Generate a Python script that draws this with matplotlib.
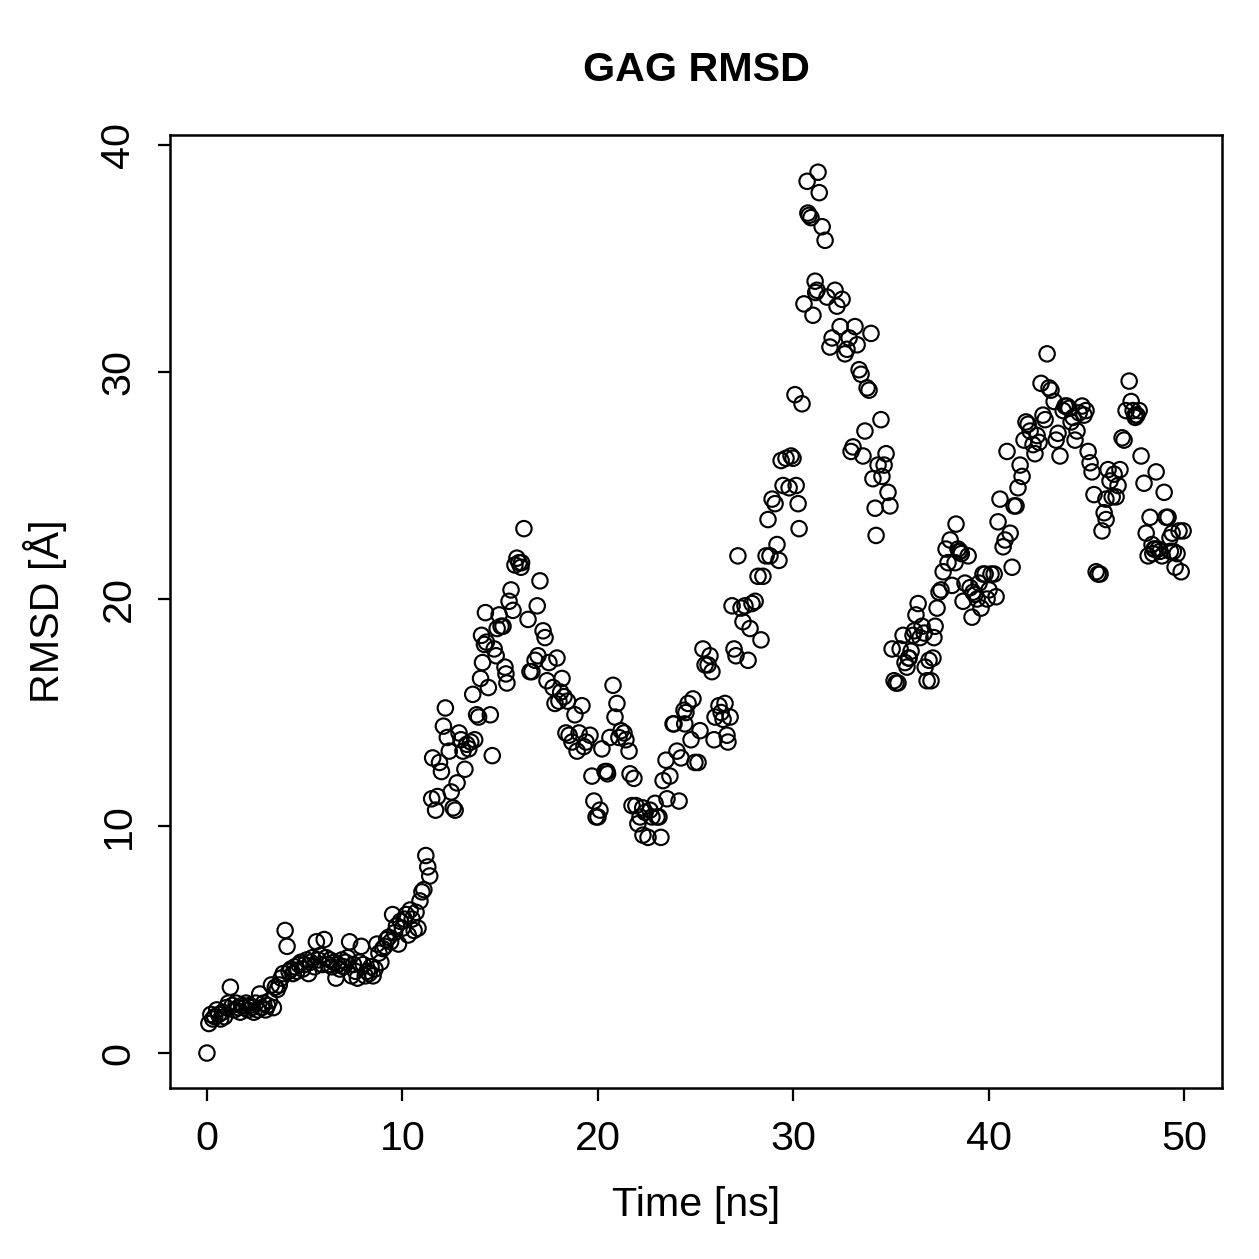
import numpy as np
import matplotlib
matplotlib.use("Agg")
import matplotlib.pyplot as plt

plt.rcParams['font.family'] = ['Liberation Sans', 'DejaVu Sans']

# --- data ---------------------------------------------------------------
# early part, sampled every 0.1 ns from 0.0 to 11.4 ns
time_early = np.round(np.arange(0, 11.45, 0.1), 1)
rmsd_early = [
    0.0, 1.3, 1.7, 1.5, 1.6, 1.9, 1.7, 1.5, 1.8, 1.6,
    2.0, 2.2, 2.9, 2.1, 1.9, 2.2, 2.0, 1.8, 2.1, 2.0,
    2.2, 1.9, 2.1, 2.0, 1.8, 2.2, 1.9, 2.6, 2.0, 2.2,
    1.9, 2.1, 2.3, 3.0, 2.0, 2.9, 2.8, 3.0, 3.3, 3.5,
    5.4, 4.7, 3.6, 3.7, 3.5, 3.8, 3.6, 3.9, 4.0, 3.7,
    3.9, 4.1, 3.5, 4.0, 4.2, 3.8, 4.9, 4.1, 4.3, 3.9,
    5.0, 4.2, 3.9, 4.1, 3.8, 4.0, 3.3, 3.9, 3.7, 4.1,
    3.8, 4.0, 4.2, 4.9, 3.4, 3.9, 3.6, 3.3, 4.0, 4.7,
    3.9, 3.4, 3.6, 3.5, 3.8, 3.4, 3.7, 4.8, 4.4, 4.0,
    4.6, 4.7, 5.0, 5.1, 4.9, 6.1, 5.3, 5.6, 4.8, 5.8,
    5.5, 5.9, 6.1, 5.2, 6.3, 5.9, 5.4, 6.2, 5.5, 6.7,
    7.1, 7.2, 8.7, 8.2, 7.8,
]

# later part, read as (time, rmsd) pairs
time_late = [
    11.5, 11.55, 11.7, 11.8, 11.9, 12.0, 12.1, 12.2, 12.3, 12.4, 12.5, 12.6, 12.7, 12.8, 12.9,
    13.0, 13.1, 13.2, 13.3, 13.4, 13.5, 13.6, 13.7, 13.8, 13.9, 14.0, 14.05, 14.1, 14.2, 14.25,
    14.3, 14.4, 14.5, 14.6, 14.7, 14.8, 14.85, 14.95, 15.05, 15.15, 15.25, 15.3, 15.35,
    15.46, 15.56, 15.66, 15.76, 15.86, 15.97, 16.07, 16.1, 16.22, 16.43, 16.53, 16.63, 16.79,
    16.94, 17.04, 16.9, 17.2, 17.3, 17.4, 17.5, 17.71, 17.81, 17.91, 18.01, 18.1, 18.17, 18.27,
    18.37, 18.45, 18.53, 18.68, 18.83, 18.94, 19.04, 19.19, 19.29, 19.4, 19.6, 19.7, 19.8,
    19.91, 20.01, 20.11, 20.21, 20.37, 20.47, 20.5, 20.62, 20.78, 20.88, 20.98, 21.08, 21.19,
    21.34, 21.44, 21.6, 21.65, 21.75, 21.85, 21.95, 22.05, 22.16, 22.3, 22.31, 22.42, 22.57,
    22.67, 22.77, 22.93, 23.03, 23.13, 23.23, 23.34, 23.49, 23.54, 23.69, 23.85, 23.9, 24.05,
    24.16, 24.26, 24.41, 24.45, 24.51, 24.62, 24.77, 24.87, 24.97, 25.13, 25.23, 25.38, 25.49,
    25.64, 25.74, 25.84, 25.95, 26.0, 26.2, 26.31, 26.41, 26.51, 26.61, 26.66, 26.77, 26.87,
    26.97, 27.07, 27.17, 27.33, 27.43, 27.53, 27.69, 27.79, 27.89, 28.05, 28.2, 28.35, 28.45,
    28.61, 28.71, 28.81, 28.92, 29.07, 29.17, 29.27, 29.38, 29.48, 29.63, 29.79, 29.89, 29.99,
    30.09, 30.15, 30.25, 30.3, 30.45, 30.55, 30.71, 30.75, 30.81, 30.91, 31.01, 31.12, 31.15,
    31.22, 31.27, 31.33, 31.48, 31.63, 31.73, 31.88, 31.99, 32.14, 32.24, 32.4, 32.5, 32.65,
    32.75, 32.86, 32.96, 33.06, 33.16, 33.27, 33.37, 33.47, 33.57, 33.67, 33.78, 33.88, 33.98,
    34.08, 34.19, 34.24, 34.34, 34.49, 34.54, 34.65, 34.75, 34.85, 34.95,
    35.06, 35.16, 35.26, 35.36, 35.47, 35.62, 35.72, 35.82, 35.9, 35.93, 36.03, 36.13, 36.2,
    36.28, 36.39, 36.49, 36.59, 36.7, 36.75, 36.85, 36.95, 37.05, 37.15, 37.2, 37.26, 37.36,
    37.46, 37.56, 37.67, 37.82, 37.92, 38.03, 38.13, 38.28, 38.33, 38.43, 38.5, 38.54, 38.6,
    38.69, 38.79, 38.95, 39.05, 39.15, 39.2, 39.3, 39.41, 39.51, 39.61, 39.71, 39.82, 39.92,
    40.02, 40.12, 40.28, 40.38, 40.48, 40.58, 40.74, 40.84, 40.94, 41.1, 41.2, 41.3, 41.4,
    41.5, 41.61, 41.71, 41.81, 41.91, 42.02, 42.12, 42.27, 42.37, 42.48, 42.58, 42.68, 42.78,
    42.89, 42.99, 43.09, 43.19, 43.35, 43.45, 43.55, 43.65, 43.81, 43.91, 44.01, 44.11, 44.22,
    44.32, 44.42, 44.52, 44.63, 44.78, 44.88, 44.98, 45.09, 45.19, 45.29, 45.39, 45.5, 45.6,
    45.7, 45.8, 45.91, 46.0, 46.01, 46.11, 46.21, 46.32, 46.42, 46.52, 46.62, 46.72, 46.83,
    46.93, 47.03, 47.19, 47.29, 47.39, 47.49, 47.5, 47.59, 47.7, 47.8, 47.95, 48.06, 48.16,
    48.26, 48.36, 48.4, 48.46, 48.5, 48.57, 48.67, 48.77, 48.87, 48.98, 49.08, 49.18, 49.28,
    49.3, 49.39, 49.45, 49.54, 49.64, 49.74, 49.85, 49.95,
]
rmsd_late = [
    11.2, 13.0, 10.7, 11.3, 12.8, 12.4, 14.4, 15.2, 13.9, 13.3, 11.5, 10.8, 10.7, 11.9, 14.1,
    13.8, 13.3, 12.5, 13.6, 13.4, 13.7, 15.8, 13.8, 14.9, 14.8, 16.5, 18.4, 17.2, 18.0, 19.4,
    18.1, 16.1, 14.9, 13.1, 17.8, 17.5, 18.7, 19.3, 18.8, 18.8, 17.0, 16.7, 16.3,
    19.9, 20.4, 19.5, 21.5, 21.8, 21.6, 21.4, 21.6, 23.1, 19.1, 16.8, 16.8, 17.3,
    17.5, 20.8, 19.7, 18.6, 18.3, 16.4, 17.2, 16.1, 15.4, 17.4, 15.5, 15.9, 16.5, 15.7,
    14.1, 15.5, 14.0, 13.7, 14.9, 13.3, 14.1, 15.3, 13.5, 13.7, 14.0, 12.2, 11.1,
    10.4, 10.4, 10.7, 13.4, 12.4, 12.4, 12.3, 13.9, 16.2, 14.8, 15.4, 13.9, 14.2,
    14.1, 13.8, 13.3, 12.3, 10.9, 12.1, 10.9, 10.1, 10.4, 10.8, 9.6, 10.6, 9.5,
    10.7, 10.4, 11.0, 10.4, 10.4, 9.5, 12.0, 12.9, 11.2, 12.2, 14.5, 14.5, 13.3,
    11.1, 13.0, 15.1, 14.5, 15.0, 15.4, 13.8, 15.6, 12.8, 12.8, 14.2, 17.8, 17.1,
    17.1, 17.5, 16.8, 13.8, 14.8, 15.3, 15.0, 14.7, 15.4, 14.0, 13.7, 14.8, 19.7,
    17.8, 17.5, 21.9, 19.6, 19.0, 19.7, 17.3, 18.7, 19.8, 19.9, 21.0, 18.2, 21.0,
    21.9, 23.5, 21.9, 24.4, 24.2, 22.4, 21.7, 26.1, 25.0, 26.2, 24.9, 26.3, 26.2,
    29.0, 25.0, 24.2, 23.1, 28.6, 33.0, 38.4, 37.0, 36.9, 36.8, 32.5, 34.0, 33.5,
    33.6, 38.8, 37.9, 36.4, 35.8, 33.3, 31.1, 31.5, 33.6, 32.9, 32.0, 33.2, 30.8,
    31.0, 31.5, 26.5, 26.7, 32.0, 31.2, 30.1, 29.9, 26.3, 27.4, 29.3, 29.2, 31.7,
    25.3, 24.0, 22.8, 25.9, 27.9, 25.4, 25.9, 26.4, 24.7, 24.1,
    17.8, 16.4, 16.3, 16.3, 17.8, 18.4, 17.2, 17.0, 17.4, 17.4, 17.7, 18.4, 18.6,
    19.3, 19.8, 18.3, 18.8, 18.5, 17.0, 16.4, 17.3, 16.4, 17.4, 18.3, 18.8, 19.6,
    20.3, 20.4, 21.2, 22.2, 21.6, 22.6, 20.6, 21.6, 23.3, 22.2, 22.1, 22.1, 22.0,
    19.9, 20.7, 21.9, 20.5, 19.2, 20.3, 20.2, 20.0, 20.7, 19.6, 21.1, 21.1, 20.0,
    20.4, 21.1, 21.1, 20.1, 23.4, 24.4, 22.3, 22.6, 26.5, 22.9, 21.4, 24.1, 24.1,
    24.9, 25.9, 25.4, 27.0, 27.8, 27.7, 27.4, 26.8, 26.4, 27.2, 26.9, 29.5, 28.1,
    27.9, 30.8, 29.3, 29.2, 28.7, 27.0, 27.3, 26.3, 28.3, 28.5, 28.5, 28.4, 27.8,
    28.0, 27.0, 27.4, 28.2, 28.5, 28.1, 28.3, 26.5, 26.0, 25.6, 24.6, 21.2, 21.1,
    21.1, 23.0, 23.8, 24.4, 23.5, 25.7, 25.2, 24.5, 25.5, 24.5, 25.0, 25.7, 27.1,
    27.0, 28.3, 29.6, 28.7, 28.3, 28.1, 28.0, 28.1, 28.3, 26.3, 25.1, 22.9, 21.9,
    23.6, 22.4, 22.0, 22.2, 22.2, 25.6, 22.2, 22.1, 21.9, 24.7, 23.6, 23.6, 22.7,
    22.1, 22.9, 22.1, 21.4, 22.0, 23.0, 21.2, 23.0,
]

time_ns = np.concatenate([time_early, np.array(time_late)])
rmsd = np.concatenate([np.array(rmsd_early), np.array(rmsd_late)])

x_ticks = [0, 10, 20, 30, 40, 50]
y_ticks = [0, 10, 20, 30, 40]

# --- figure ---------------------------------------------------------------
W = H = 1259
dpi = 180
fig = plt.figure(figsize=(W / dpi, H / dpi), dpi=dpi)
ax = fig.add_axes([170 / W, 1 - 1088 / H, (1222 - 170) / W, (1088 - 135) / H])

ax.scatter(time_ns, rmsd, s=38, facecolors='none', edgecolors='black',
           linewidths=0.85, zorder=3)

ax.set_xlim(-1.89, 51.94)
ax.set_ylim(-1.54, 40.44)

ax.set_xticks(x_ticks)
ax.set_yticks(y_ticks)
ax.set_xticklabels([str(v) for v in x_ticks])
ax.set_yticklabels([str(v) for v in y_ticks], rotation=90, va='center')
ax.tick_params(axis='both', direction='out', length=5, width=0.9,
               labelsize=16.5, color='black')
ax.tick_params(axis='x', pad=8)
ax.tick_params(axis='y', pad=8)

for sp in ax.spines.values():
    sp.set_linewidth(1.0)
    sp.set_color('black')

ax.set_xlabel('Time [ns]', fontsize=16.5, labelpad=11)
ax.set_ylabel('RMSD [Å]', fontsize=16.5, labelpad=13)
fig.text((170 + 1222) / 2 / W, 1 - 70 / H, 'GAG RMSD', ha='center', va='center',
         fontsize=16.5, fontweight='bold')

fig.savefig('out.png', dpi=dpi, facecolor='white')
